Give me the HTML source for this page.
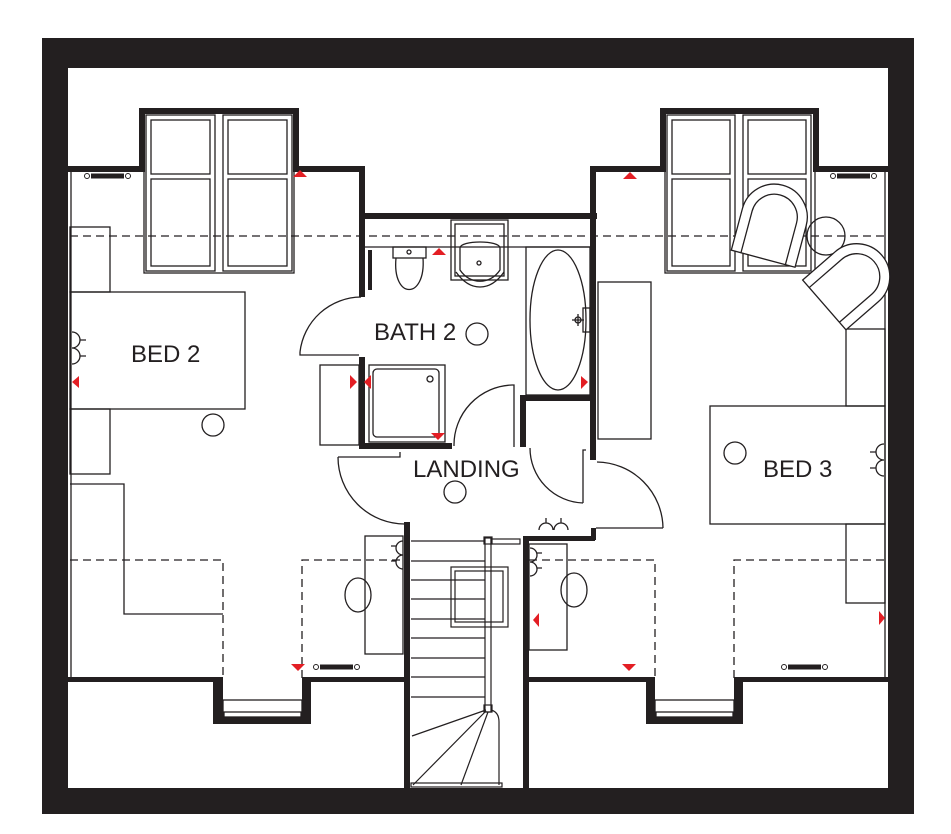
<!DOCTYPE html>
<html><head><meta charset="utf-8"><style>
html,body{margin:0;padding:0;background:#fff}
svg{display:block}
text{font-family:"Liberation Sans",sans-serif;fill:#231f20}
</style></head><body>
<svg width="951" height="834" viewBox="0 0 951 834" xmlns="http://www.w3.org/2000/svg">
<defs>
<g id="chair" fill="#fff" stroke="#231f20" stroke-width="1.3">
<path d="M-33,38 L-33,-5 A33,33 0 0 1 33,-5 L33,38 Z"/>
<path d="M-23,38 L-23,-5 A23,23 0 0 1 23,-5 L23,38" fill="none"/>
</g>
<g id="rad"><circle cx="0" cy="0" r="2.5" fill="#fff" stroke="#231f20" stroke-width="1"/><rect x="4" y="-2.5" width="33" height="5" fill="#231f20"/><circle cx="41" cy="0" r="2.5" fill="#fff" stroke="#231f20" stroke-width="1"/></g>
</defs>
<rect x="42" y="38" width="872" height="776" fill="#231f20"/>
<rect x="68" y="68" width="820" height="720" fill="#fff"/>

<g fill="none" stroke="#231f20" stroke-width="1.3">
<line x1="71" y1="172" x2="71" y2="677"/>
<line x1="885" y1="172" x2="885" y2="677"/>
<g stroke-dasharray="8,5">
<line x1="70" y1="236" x2="886" y2="236"/>
<polyline points="70,560 223,560 223,678"/>
<polyline points="302,678 302,560 404,560"/>
<polyline points="529,560 655,560 655,678"/>
<polyline points="734,678 734,560 886,560"/>
</g>
<rect x="70" y="227" width="40" height="65"/>
<rect x="70" y="292" width="175" height="117"/>
<rect x="70" y="409" width="40" height="65"/>
<polyline points="70,484 124,484 124,614 223,614"/>
<circle cx="213" cy="425" r="11"/>
<path d="M72,332 a8,8 0 0 1 0,16 M72,348 a8,8 0 0 1 0,16 M80,340 h6 M80,356 h6"/>
<rect x="146" y="115" width="69" height="156"/><rect x="151" y="120" width="59" height="54"/><rect x="151" y="179" width="59" height="87"/>
<rect x="223" y="115" width="69" height="156"/><rect x="228" y="120" width="59" height="54"/><rect x="228" y="179" width="59" height="87"/>
<rect x="144" y="113" width="150" height="160"/>
<rect x="667" y="115" width="68" height="156"/><rect x="672" y="120" width="58" height="54"/><rect x="672" y="179" width="58" height="87"/>
<rect x="743" y="115" width="68" height="156"/><rect x="748" y="120" width="58" height="54"/><rect x="748" y="179" width="58" height="87"/>
<rect x="665" y="113" width="150" height="160"/>
<line x1="365" y1="247" x2="591" y2="247"/>
<rect x="393" y="247" width="33" height="11"/><circle cx="409" cy="252" r="2"/>
<path d="M396,258 C392,300 426,300 423,258"/>
<rect x="451" y="220" width="57" height="60"/><rect x="455" y="224" width="49" height="52"/>
<path d="M460,248 C460,240 500,240 500,248 L500,270 C490,285 470,285 460,270 Z"/>
<path d="M456,272 C470,292 490,292 504,272"/><circle cx="479" cy="263" r="2"/>
<rect x="526" y="247" width="64" height="148"/>
<ellipse cx="558" cy="320" rx="28" ry="70"/>
<path d="M572,320 h12 M578,314 v12"/><circle cx="578" cy="320" r="3"/>
<rect x="583" y="308" width="7" height="24"/>
<circle cx="477" cy="334" r="11"/>
<rect x="369" y="365" width="76" height="77"/><rect x="373" y="369" width="66" height="68" rx="4"/>
<circle cx="430" cy="379" r="3"/>
<rect x="320" y="365" width="39" height="80"/>
<path d="M361,297 A62,62 0 0 0 300,352"/><polyline points="300,352 300,355 359,355"/>
<polyline points="338,457 400,457 400,452"/>
<path d="M338,457 A67,67 0 0 0 405,524"/>
<path d="M512,385 A60,60 0 0 0 454,446"/><polyline points="512,385 514,385 514,447"/>
<path d="M530,448 A55,55 0 0 0 583,503"/><polyline points="583,503 583,450 586,450"/>
<path d="M597,462 A67,67 0 0 1 663,528"/><line x1="596" y1="528" x2="663" y2="528"/>
<circle cx="455" cy="492" r="11"/>
<rect x="598" y="282" width="53" height="157"/>
<rect x="846" y="329" width="39" height="77"/>
<rect x="710" y="406" width="175" height="118"/>
<rect x="846" y="524" width="39" height="79"/>
<circle cx="735" cy="453" r="11"/>
<path d="M884,444 a8,8 0 0 0 0,16 M884,460 a8,8 0 0 0 0,16 M876,452 h-6 M876,468 h-6"/>
<circle cx="826" cy="236" r="19"/>
<path d="M539,530 a7,7 0 0 1 14,0 M554,530 a7,7 0 0 1 14,0 M546,523 v-5 M561,523 v-5"/>
<rect x="365" y="536" width="38" height="118"/>
<ellipse cx="358" cy="595" rx="13" ry="17"/>
<path d="M403,541 a7,7 0 0 0 0,14 M403,555 a7,7 0 0 0 0,14 M396,546 h-5 M396,561 h-5"/>
<rect x="529" y="544" width="38" height="106"/>
<ellipse cx="574" cy="590" rx="13" ry="17"/>
<path d="M530,548 a7,7 0 0 1 0,14 M530,562 a7,7 0 0 1 0,14 M537,553 h5 M537,568 h5"/>
<g stroke-width="1.2">
<line x1="411" y1="541" x2="485" y2="541"/>
<line x1="411" y1="561" x2="485" y2="561"/>
<line x1="411" y1="580" x2="485" y2="580"/>
<line x1="411" y1="599" x2="485" y2="599"/>
<line x1="411" y1="619" x2="485" y2="619"/>
<line x1="411" y1="638" x2="485" y2="638"/>
<line x1="411" y1="658" x2="485" y2="658"/>
<line x1="411" y1="677" x2="485" y2="677"/>
<line x1="411" y1="697" x2="485" y2="697"/>
<rect x="485" y="538" width="6" height="174"/>
<rect x="484" y="537" width="8" height="7"/><rect x="484" y="705" width="8" height="7"/>
<rect x="491" y="539" width="29" height="5"/>
<line x1="486" y1="710" x2="412" y2="736"/>
<line x1="486" y1="711" x2="413" y2="785"/>
<line x1="488" y1="712" x2="461" y2="785"/>
<path d="M491,710 Q499,712 499,722 L499,785"/>
<rect x="411" y="783" width="91" height="4"/>
<rect x="451" y="567" width="57" height="60"/><rect x="455" y="571" width="48" height="51"/>
</g>
<rect x="223" y="700" width="79" height="18"/><rect x="224" y="712" width="77" height="5"/>
<rect x="655" y="700" width="79" height="18"/><rect x="656" y="712" width="77" height="5"/>
</g>

<use href="#chair" transform="translate(773,222) rotate(15)"/>
<use href="#chair" transform="translate(853,280) rotate(49)"/>

<g fill="#231f20">
<rect x="68" y="166" width="77" height="6"/>
<rect x="139" y="108" width="6" height="64"/>
<rect x="139" y="108" width="160" height="6"/>
<rect x="293" y="108" width="6" height="64"/>
<rect x="293" y="166" width="72" height="6"/>
<rect x="359" y="166" width="6" height="131"/>
<rect x="359" y="213" width="238" height="6"/>
<rect x="368" y="250" width="4" height="40"/>
<rect x="359" y="357" width="6" height="92"/>
<rect x="359" y="443" width="93" height="6"/>
<rect x="520" y="395" width="76" height="6"/>
<rect x="520" y="395" width="6" height="52"/>
<rect x="590" y="166" width="6" height="294"/>
<rect x="590" y="166" width="76" height="6"/>
<rect x="660" y="108" width="6" height="64"/>
<rect x="660" y="108" width="159" height="6"/>
<rect x="813" y="108" width="6" height="64"/>
<rect x="813" y="166" width="75" height="6"/>
<rect x="523" y="536" width="72" height="5"/>
<rect x="591" y="528" width="5" height="12"/>
<rect x="404" y="522" width="6" height="266"/>
<rect x="523" y="536" width="6" height="252"/>
<rect x="68" y="677" width="155" height="5"/>
<rect x="213" y="677" width="10" height="47"/>
<rect x="213" y="718" width="98" height="6"/>
<rect x="302" y="677" width="9" height="47"/>
<rect x="302" y="677" width="102" height="5"/>
<rect x="529" y="677" width="126" height="5"/>
<rect x="646" y="677" width="9" height="47"/>
<rect x="646" y="718" width="97" height="6"/>
<rect x="734" y="677" width="9" height="47"/>
<rect x="734" y="677" width="154" height="5"/>
</g>

<use href="#rad" transform="translate(87,176)"/>
<use href="#rad" transform="translate(833,176)"/>
<use href="#rad" transform="translate(316,667)"/>
<use href="#rad" transform="translate(784,667)"/>

<g fill="#e31e24">
<polygon points="293,177 300,170 307,177"/>
<polygon points="623,179 630,172 637,179"/>
<polygon points="432,255 439,248 446,255"/>
<polygon points="79,376 72,382 79,388"/>
<polygon points="350,375 357,382 350,389"/>
<polygon points="371,375 364,382 371,389"/>
<polygon points="431,433 438,440 445,433"/>
<polygon points="581,376 588,382 581,389"/>
<polygon points="291,664 298,671 305,664"/>
<polygon points="622,664 629,671 636,664"/>
<polygon points="539,613 533,620 539,627"/>
<polygon points="879,611 885,618 879,625"/>
</g>

<text x="131" y="362" font-size="24">BED 2</text>
<text x="374" y="340" font-size="24">BATH 2</text>
<text x="413" y="477" font-size="24">LANDING</text>
<text x="763" y="477" font-size="24">BED 3</text>
</svg>
</body></html>
